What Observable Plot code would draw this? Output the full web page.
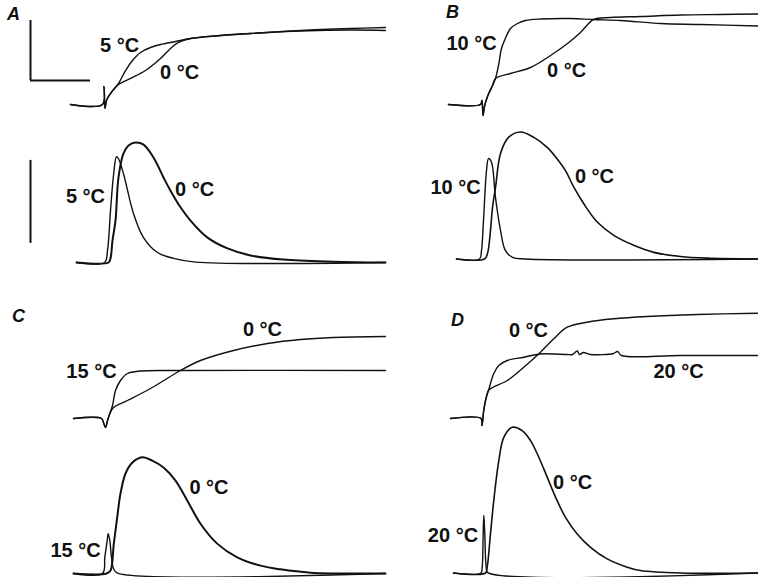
<!DOCTYPE html>
<html><head><meta charset="utf-8">
<script src="https://cdn.jsdelivr.net/npm/d3@7"></script>
<script src="https://cdn.jsdelivr.net/npm/@observablehq/plot@0.6"></script>
<style>
html,body{margin:0;padding:0;background:#fff;}
#fig{position:relative;width:758px;height:577px;overflow:hidden;background:#fff;}
#fig svg{position:absolute;}
</style></head><body><div id="fig"></div>
<script>
// time in ms (0 = pulse onset); upper traces: charge (arb. units), lower traces: current (arb. units)
const A_q_5C = [[-11.67,0],[-1,0],[-0.5,6],[-0.17,-1.33],[0.33,1.33],[1.67,3.67],[4.33,7],[6.67,11.33],[9,14.67],[11.67,17.33],[15,19],[18.33,20],[23.33,21],[28.33,22],[38.33,23],[48.33,23.67],[65,24.5],[81.67,24.83],[93.33,24.67]];
const A_q_0C = [[-11.67,0],[-1,0],[-0.5,6],[-0.17,-1.33],[0.33,1.33],[1.67,3.67],[4.33,6.67],[8.33,8.67],[13.33,11.33],[18.33,15.33],[21.67,18.67],[24.33,20.67],[28.33,22],[38.33,23],[48.33,23.67],[65,24.67],[81.67,25.33],[93.33,25.67]];
const A_i_5C = [[-9.67,0],[-0.33,0],[0.67,0.29],[1.67,1.25],[2.67,2.1],[3.67,2.55],[4.33,2.5],[6,2.14],[9.33,1.18],[12.67,0.6],[17.33,0.24],[22.67,0.1],[30,0.01],[93.33,0]];
const A_i_0C = [[-9.67,0],[1,0],[1.67,0.1],[2.33,0.53],[3.33,1.01],[4.33,2.05],[6,2.63],[7.67,2.82],[10,2.89],[12.67,2.84],[16,2.53],[19.33,2.05],[21.67,1.73],[25,1.33],[28.33,1.01],[34,0.6],[40.67,0.34],[48.33,0.17],[59.33,0.07],[76,0.02],[93.33,0]];

const B_q_10C = [[-11.67,0],[-1,0],[-0.5,1.33],[-0.17,-3.67],[0.33,-0.67],[1.33,2.67],[3,6.33],[4,8.67],[5,13],[6,18.67],[7,21.33],[9,25.33],[11.33,27],[14,28],[19,28.5],[29,28.67],[36.67,28.33],[45.67,28],[59,27],[72.33,26.67],[91.67,26.17]];
const B_q_0C = [[-11.67,0],[-1,0],[-0.5,1.33],[-0.17,-3.67],[0.33,-0.67],[1.33,2.67],[3,6.33],[4,8.67],[9,10.33],[15.67,12.33],[23.33,17],[28,20.33],[32.33,24],[36.67,28.33],[42.33,29],[52.33,29.33],[65.67,29.83],[79,30],[91.67,30.17]];
const B_i_10C = [[-9,0],[-1.33,0],[-0.67,0.2],[0,0.93],[1,2.13],[1.67,2.42],[2.67,2.33],[4,1.48],[5.67,0.69],[7.33,0.2],[9.67,0.04],[14,0],[91.67,0]];
const B_i_0C = [[-9,0],[0.33,0],[1.33,0.13],[2.33,0.69],[3,1.24],[4,1.72],[5.67,2.54],[8.33,2.93],[12.33,3.06],[16.77,2.93],[21.23,2.69],[24.57,2.41],[27.33,2.13],[30.1,1.73],[33.43,1.33],[37.9,0.89],[43.43,0.57],[50.1,0.33],[56.77,0.16],[65.67,0.06],[74.57,0.02],[91.67,0]];

const C_q_15C = [[-10.67,0],[-1.33,0],[-0.67,-1.33],[0,-3],[0.67,-0.67],[1.33,1.33],[2.33,4.33],[3.33,9.33],[5,12.67],[7.33,15],[11.67,15.83],[25,16],[93.33,16]];
const C_q_0C = [[-10.67,0],[-1.33,0],[-0.67,-1.33],[0,-3],[0.67,-0.67],[1.33,1.33],[2.67,3.67],[7.33,6],[15,10],[25,16],[31.67,19.33],[42.67,22.67],[54,25],[65,26.33],[76,27],[93.33,27.33]];
const C_i_15C = [[-10.67,0],[-1,0],[-0.23,0.39],[0.57,0.8],[0.9,0.96],[1.43,0.8],[2,0.39],[2.67,0.12],[4,0.01],[93.33,0]];
const C_i_0C = [[-10.67,0],[0.33,0],[1.67,0.07],[2.77,0.72],[3.9,1.35],[5,1.93],[6.67,2.41],[8.9,2.67],[12.23,2.8],[15.57,2.72],[19.43,2.55],[23.33,2.24],[27.23,1.76],[31.67,1.2],[37.23,0.72],[43.9,0.39],[51.67,0.19],[58.33,0.1],[68.33,0.02],[93.33,0]];

const D_q_20C = [[-11,0],[-0.83,0],[-0.5,-2.33],[0,2],[0.67,6],[1.67,9.33],[3.43,15],[5.1,17.67],[7.9,19.33],[13.43,20.43],[19,21.5],[27.9,21.33],[29.67,21.33],[31.23,22.5],[32,21.33],[33.33,22],[35.67,21.33],[43.33,21.67],[44.67,22.33],[46,21],[65.67,21],[91.33,21]];
const D_q_0C = [[-11,0],[-0.83,0],[-0.5,-2.33],[0,2],[0.67,6],[1.67,9.33],[3,10.33],[7.9,12.67],[13.43,17.1],[19,22.1],[23.43,26.57],[27.9,30.43],[34.57,32.1],[43.43,33.23],[54.57,34],[71.23,34.67],[91.33,35.1]];
const D_i_20C = [[-10,0],[-0.83,0],[-0.43,0.14],[-0.1,0.95],[0.1,1.39],[0.43,0.95],[0.9,0.14],[1.43,0.01],[91.67,0]];
const D_i_0C = [[-10,0],[0.67,0],[1.23,0.14],[2.33,0.95],[3.43,1.75],[5.1,2.71],[6.77,3.27],[9.57,3.51],[12.9,3.43],[15.67,3.19],[18.43,2.79],[21.23,2.31],[24,1.83],[27.33,1.34],[31.23,0.94],[35.67,0.62],[41.23,0.34],[47.9,0.14],[52.33,0.06],[65.67,0],[91.67,0]];

// temperature labels (anchored at time / value)
const A_q_labels = [{text:"5 °C",t:4.67,v:19.67},{text:"0 °C",t:24.67,v:10.67}];
const A_i_labels = [{text:"5 °C",t:-6.67,v:1.59},{text:"0 °C",t:29.67,v:1.76}];
const B_q_labels = [{text:"10 °C",t:-4,v:20.17},{text:"0 °C",t:27.67,v:11.33}];
const B_i_labels = [{text:"10 °C",t:-9.33,v:1.71},{text:"0 °C",t:37,v:1.99}];
const C_q_labels = [{text:"15 °C",t:-4.67,v:15.5},{text:"0 °C",t:52.33,v:29.5}];
const C_i_labels = [{text:"15 °C",t:-10,v:0.55},{text:"0 °C",t:34.5,v:2.08}];
const D_q_labels = [{text:"0 °C",t:15,v:29.17},{text:"20 °C",t:65,v:15.5}];
const D_i_labels = [{text:"20 °C",t:-10.17,v:0.89},{text:"0 °C",t:29.67,v:2.17}];

const panelLetters = {A:{t:-30.67,v:30},B:{t:-10.33,v:30.67},C:{t:-29,v:34},D:{t:-8.67,v:32.67}};

// calibration bars: 20 ms, 20 charge units, 2 current units
const calTime = 20, calCharge = 20, calCurrent = 2;
const calOriginT = -25, calOriginQ = 8, calOriginI = 0.46;

const FONT = "Liberation Sans, Arial, Helvetica, sans-serif";
const INK = "#111";
const fig = document.getElementById("fig");

function trace({left, top, height, base, k, series, labels, letter, cal}) {
  const marks = [];
  for (const s of series) {
    marks.push(Plot.line(s.data, {x: d => d[0], y: d => d[1], curve: "catmull-rom", stroke: INK, strokeWidth: s.w, strokeLinejoin: "round"}));
  }
  marks.push(Plot.text(labels, {x: "t", y: "v", text: "text", fontSize: 20, fontWeight: "bold", fontFamily: FONT, fill: INK}));
  if (letter) {
    const p = panelLetters[letter];
    marks.push(Plot.text([letter], {x: p.t, y: p.v, text: d => d, fontSize: 18, fontWeight: "bold", fontStyle: "italic", fontFamily: FONT, fill: INK}));
  }
  if (cal) marks.push(...cal);
  const svg = Plot.plot({
    width: 390, height, margin: 0,
    x: {domain: [-35, 95], axis: null},
    y: {domain: [-(height - base) / k, base / k], axis: null},
    style: {background: "transparent", overflow: "visible"},
    marks
  });
  svg.style.left = left + "px";
  svg.style.top = top + "px";
  svg.style.maxWidth = "none";
  fig.append(svg);
}

const calUpper = [
  Plot.ruleX([calOriginT], {y1: calOriginQ, y2: calOriginQ + calCharge, stroke: INK, strokeWidth: 2}),
  Plot.ruleY([calOriginQ], {x1: calOriginT, x2: calOriginT + calTime, stroke: INK, strokeWidth: 2})
];
const calLower = [
  Plot.ruleX([calOriginT], {y1: calOriginI, y2: calOriginI + calCurrent, stroke: INK, strokeWidth: 2})
];

// A
trace({left: 0, top: 0, height: 130, base: 104, k: 3, letter: "A", cal: calUpper,
  series: [{data: A_q_5C, w: 1.4}, {data: A_q_0C, w: 1.4}], labels: A_q_labels});
trace({left: 0, top: 125, height: 145, base: 137, k: 41.5, cal: calLower,
  series: [{data: A_i_5C, w: 1.4}, {data: A_i_0C, w: 2}], labels: A_i_labels});
// B
trace({left: 378, top: 0, height: 130, base: 104, k: 3, letter: "B",
  series: [{data: B_q_10C, w: 1.4}, {data: B_q_0C, w: 1.4}], labels: B_q_labels});
trace({left: 378, top: 125, height: 145, base: 133.5, k: 41.5,
  series: [{data: B_i_10C, w: 1.4}, {data: B_i_0C, w: 1.6}], labels: B_i_labels});
// C
trace({left: 0, top: 300, height: 130, base: 118, k: 3, letter: "C",
  series: [{data: C_q_15C, w: 1.4}, {data: C_q_0C, w: 1.4}], labels: C_q_labels});
trace({left: 0, top: 425, height: 152, base: 148, k: 41.5,
  series: [{data: C_i_15C, w: 1.4}, {data: C_i_0C, w: 2}], labels: C_i_labels});
// D
trace({left: 378, top: 300, height: 130, base: 118, k: 3, letter: "D",
  series: [{data: D_q_20C, w: 1.4}, {data: D_q_0C, w: 1.4}], labels: D_q_labels});
trace({left: 378, top: 425, height: 152, base: 147.5, k: 41.5,
  series: [{data: D_i_20C, w: 1.4}, {data: D_i_0C, w: 1.6}], labels: D_i_labels});
</script></body></html>
